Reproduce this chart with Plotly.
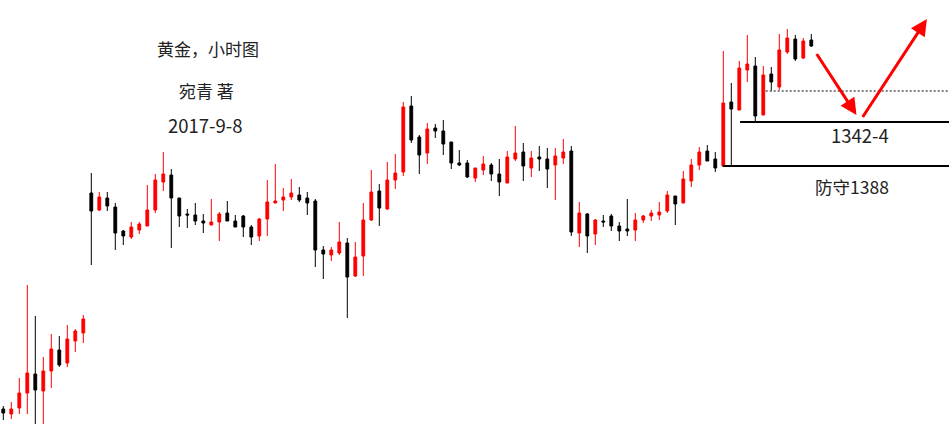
import plotly.graph_objects as go

# Hourly gold candles (price units)
opens = [1314.3, 1313.8, 1314.4, 1315.9, 1317.8, 1316.1, 1318.1, 1320.2, 1318.9, 1321.1,
         1321.9, 1335.9, 1334.2, 1335.4, 1334.5, 1332.1, 1331.5, 1332.2, 1332.6, 1334.2,
         1337.0, 1337.7, 1335.4, 1333.8, 1333.7, 1333.1, 1332.7, 1333.0, 1333.9, 1333.1,
         1333.6, 1332.5, 1331.6, 1333.3, 1334.9, 1335.2, 1335.5, 1335.7, 1335.4, 1335.1,
         1330.2, 1329.7, 1329.9, 1330.9, 1327.6, 1329.6, 1333.2, 1336.1, 1334.3, 1337.2,
         1338.0, 1344.6, 1341.5, 1339.9, 1342.4, 1342.1, 1341.0, 1338.9, 1338.9, 1337.4,
         1338.2, 1338.7, 1337.8, 1336.9, 1339.3, 1340.0, 1338.4, 1339.5, 1339.3, 1338.7,
         1339.4, 1340.1, 1331.9, 1333.8, 1331.8, 1333.1, 1333.6, 1332.6, 1332.3, 1332.2,
         1333.2, 1333.6, 1333.7, 1334.1, 1335.6, 1334.9, 1337.1, 1338.7, 1340.1, 1339.3,
         1338.6, 1345.0, 1344.2, 1348.2, 1348.6, 1343.7, 1347.8, 1346.5, 1350.0, 1351.3,
         1349.4, 1351.2]
highs = [1314.6, 1315.0, 1317.4, 1326.7, 1323.6, 1319.5, 1321.8, 1321.6, 1322.7, 1322.3,
         1323.7, 1337.9, 1336.0, 1336.0, 1334.9, 1332.2, 1333.0, 1333.0, 1336.7, 1337.8,
         1340.0, 1338.3, 1335.4, 1334.3, 1334.9, 1333.8, 1335.3, 1334.0, 1335.1, 1333.7,
         1333.7, 1332.7, 1333.4, 1337.2, 1338.8, 1336.4, 1337.3, 1336.5, 1336.0, 1335.3,
         1330.6, 1330.5, 1333.0, 1331.4, 1331.0, 1334.9, 1338.2, 1336.8, 1339.0, 1339.8,
         1345.0, 1345.6, 1341.7, 1342.9, 1342.8, 1343.2, 1341.0, 1340.2, 1339.2, 1338.4,
         1339.6, 1338.9, 1339.3, 1340.1, 1342.6, 1340.9, 1340.1, 1340.6, 1340.4, 1340.4,
         1341.3, 1340.6, 1335.0, 1333.9, 1333.3, 1333.7, 1333.8, 1333.0, 1335.3, 1333.9,
         1333.7, 1334.2, 1335.0, 1336.1, 1335.6, 1338.1, 1339.3, 1340.5, 1340.7, 1340.0,
         1350.1, 1346.9, 1349.1, 1351.7, 1349.5, 1348.6, 1348.5, 1351.8, 1352.3, 1351.7,
         1351.4, 1351.8]
lows = [1313.2, 1313.3, 1313.8, 1313.8, 1312.5, 1312.5, 1316.4, 1318.5, 1318.5, 1320.0,
        1320.9, 1328.7, 1334.1, 1334.1, 1330.2, 1330.7, 1331.3, 1331.8, 1332.6, 1333.9,
        1336.1, 1330.4, 1332.5, 1332.4, 1332.7, 1331.9, 1332.7, 1331.1, 1333.1, 1332.5,
        1331.5, 1330.7, 1331.1, 1331.6, 1334.9, 1334.1, 1335.2, 1335.0, 1333.7, 1328.5,
        1327.3, 1329.1, 1329.7, 1323.4, 1327.5, 1327.6, 1333.1, 1332.6, 1334.2, 1336.3,
        1337.6, 1340.9, 1337.8, 1338.8, 1341.4, 1339.7, 1338.3, 1338.6, 1337.4, 1337.0,
        1337.7, 1337.1, 1335.6, 1336.9, 1339.1, 1337.1, 1337.5, 1338.1, 1336.4, 1335.2,
        1338.8, 1331.6, 1330.5, 1329.9, 1330.7, 1332.5, 1332.1, 1331.1, 1331.6, 1331.1,
        1332.9, 1333.1, 1333.2, 1333.9, 1332.7, 1334.9, 1336.5, 1338.2, 1339.1, 1338.0,
        1338.6, 1338.6, 1344.2, 1347.0, 1343.1, 1343.7, 1346.1, 1346.2, 1349.8, 1349.1,
        1349.3, 1350.5]
closes = [1313.9, 1314.3, 1315.9, 1317.9, 1316.2, 1318.1, 1320.3, 1318.7, 1321.3, 1322.1,
          1323.3, 1334.1, 1335.5, 1334.6, 1331.9, 1331.6, 1332.5, 1332.8, 1334.2, 1337.2,
          1337.8, 1335.4, 1333.6, 1333.7, 1333.1, 1332.9, 1333.0, 1333.8, 1333.1, 1332.5,
          1332.5, 1331.5, 1333.3, 1335.0, 1335.1, 1335.5, 1335.9, 1335.2, 1334.9, 1330.2,
          1329.8, 1330.2, 1331.0, 1327.5, 1329.5, 1333.2, 1336.0, 1334.4, 1337.2, 1337.9,
          1344.5, 1341.2, 1339.7, 1342.3, 1342.1, 1340.8, 1338.9, 1338.7, 1337.5, 1338.4,
          1338.8, 1337.8, 1337.0, 1339.5, 1339.9, 1338.6, 1339.4, 1339.3, 1338.3, 1339.6,
          1340.0, 1332.0, 1333.9, 1331.6, 1333.2, 1333.0, 1332.6, 1332.1, 1332.1, 1333.2,
          1333.6, 1333.9, 1334.0, 1335.7, 1334.8, 1337.3, 1338.7, 1340.0, 1339.1, 1338.4,
          1344.9, 1344.3, 1348.4, 1348.8, 1343.6, 1347.7, 1347.0, 1350.2, 1351.4, 1349.3,
          1351.1, 1350.6]
hours = list(range(len(opens)))

# Key levels and labels
support_level = 1343.0
defense_level = 1338.6
dotted_level = 1346.1
title_lines = ["黄金，小时图", "宛青 著", "2017-9-8"]
support_label = "1342-4"
defense_label = "防守1388"

fig = go.Figure()
fig.add_trace(go.Candlestick(
    x=hours, open=opens, high=highs, low=lows, close=closes,
    increasing=dict(line=dict(color="#ff0000", width=1), fillcolor="#ff0000"),
    decreasing=dict(line=dict(color="#000000", width=1), fillcolor="#000000"),
    whiskerwidth=0, showlegend=False, hoverinfo="skip",
))

shapes = [
    dict(type="line", xref="x", yref="y", x0=92.1, x1=125, y0=support_level, y1=support_level,
         line=dict(color="#000000", width=2)),
    dict(type="line", xref="x", yref="y", x0=89.95, x1=125, y0=defense_level, y1=defense_level,
         line=dict(color="#000000", width=2)),
    dict(type="line", xref="x", yref="y", x0=95.3, x1=125, y0=dotted_level, y1=dotted_level,
         line=dict(color="#808080", width=2, dash="2px,2px")),
]

fam = "Noto Sans CJK SC, Noto Sans, sans-serif"
font_cjk = dict(family=fam, size=17, color="#222222")
font_num = dict(family=fam, size=18.5, color="#222222")
font_mix = dict(family=fam, size=17.5, color="#222222")
annotations = [
    dict(xref="paper", yref="paper", x=0.2187, y=0.886, text=title_lines[0], showarrow=False,
         font=font_cjk, xanchor="center", yanchor="middle"),
    dict(xref="paper", yref="paper", x=0.2176, y=0.786, text=title_lines[1], showarrow=False,
         font=font_cjk, xanchor="center", yanchor="middle"),
    dict(xref="paper", yref="paper", x=0.2165, y=0.706, text=title_lines[2], showarrow=False,
         font=font_num, xanchor="center", yanchor="middle"),
    dict(xref="paper", yref="paper", x=0.9067, y=0.681, text=support_label, showarrow=False,
         font=font_num, xanchor="center", yanchor="middle"),
    dict(xref="paper", yref="paper", x=0.8978, y=0.559, text=defense_label, showarrow=False,
         font=font_mix, xanchor="center", yanchor="middle"),
    # arrows
    dict(xref="x", yref="y", axref="x", ayref="y", x=106.65, y=1343.7, ax=101.55, ay=1349.95,
         text="", showarrow=True, arrowhead=2, arrowsize=1.1, arrowwidth=3, arrowcolor="#ff0000",
         standoff=0, startstandoff=0),
    dict(xref="x", yref="y", axref="x", ayref="y", x=115.45, y=1353.3, ax=107.3, ay=1343.35,
         text="", showarrow=True, arrowhead=2, arrowsize=1.1, arrowwidth=3, arrowcolor="#ff0000",
         standoff=0, startstandoff=0),
]

fig.update_layout(
    width=949, height=424,
    margin=dict(l=0, r=0, t=0, b=0),
    paper_bgcolor="#ffffff", plot_bgcolor="#ffffff",
    boxgap=0.5,
    xaxis=dict(range=[-0.4125, 118.2125], visible=False, rangeslider=dict(visible=False),
               fixedrange=True),
    yaxis=dict(range=[1312.8, 1355.2], visible=False, fixedrange=True),
    shapes=shapes, annotations=annotations,
    showlegend=False,
)

fig.write_html("out.html", config={"displayModeBar": False},
               post_script="document.body.style.margin='0';document.body.style.overflow='hidden';")
